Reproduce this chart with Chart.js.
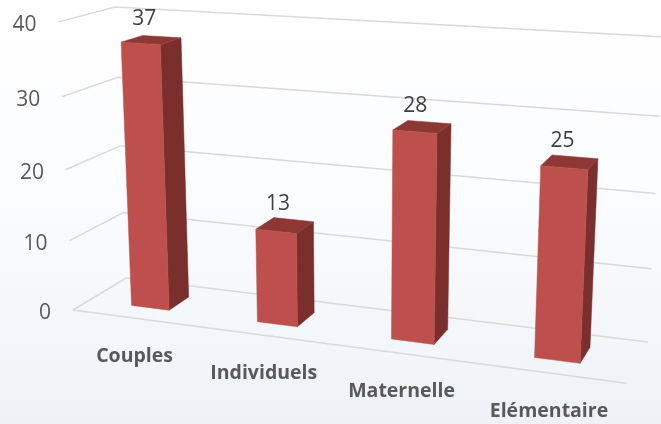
<!DOCTYPE html>
<html><head><meta charset="utf-8">
<style>html,body{margin:0;padding:0;background:#fff}canvas{display:block}</style>
<script src="https://cdn.jsdelivr.net/npm/chart.js@4"></script>
</head><body><canvas id="c" width="661" height="424"></canvas>
<script>
const categories = ["Couples", "Individuels", "Maternelle", "Elémentaire"];
const values = [37, 13, 28, 25];
const axisMin = 0, axisMax = 40, axisStep = 10;

// Camera of the 3D view: back-left floor corner and the three vanishing points
const origin = [126, 278];
const vanish = { u: [-3850, -209, -0.116], h: [355, 5920, -0.04583], d: [929, -207, -0.0619] };
const depthBack = 0.3, depthFront = 0.7;
const colors = { front: "#BD504D", top: "#8E3836", side: "#7A2F2D", grid: "#D9D9D9", tick: "#595959", value: "#404040", cat: "#595959" };
const numFont = '21px "Open Sans"', catFont = 'bold 19.5px "Open Sans"';

function P(u, h, d) {
  const w = 1 + vanish.u[2]*u + vanish.h[2]*h + vanish.d[2]*d;
  const x = origin[0] + vanish.u[2]*u*vanish.u[0] + vanish.h[2]*h*vanish.h[0] + vanish.d[2]*d*vanish.d[0];
  const y = origin[1] + vanish.u[2]*u*vanish.u[1] + vanish.h[2]*h*vanish.h[1] + vanish.d[2]*d*vanish.d[1];
  return [x/w, y/w];
}
function poly(ctx, pts, fill) {
  ctx.beginPath();
  pts.forEach((p,i)=> i ? ctx.lineTo(p[0],p[1]) : ctx.moveTo(p[0],p[1]));
  ctx.closePath();
  ctx.fillStyle = fill; ctx.strokeStyle = fill; ctx.lineWidth = 0.5;
  ctx.fill(); ctx.stroke();
}
const perspective = {
  id: "perspective",
  beforeDraw(chart) {
    const {ctx, width, height, scales:{x, y}} = chart;
    const g = ctx.createLinearGradient(0,0,0,height);
    g.addColorStop(0,"#FFFFFF"); g.addColorStop(0.45,"#FBFCFE"); g.addColorStop(1,"#EEF2F7");
    ctx.fillStyle = g; ctx.fillRect(0,0,width,height);
    const hOf = py => (y.bottom - py)/(y.bottom - y.top);
    ctx.strokeStyle = colors.grid; ctx.lineWidth = 1.5;
    ctx.font = numFont; ctx.textBaseline = "middle"; ctx.textAlign = "right";
    y.ticks.forEach(t => {
      const h = hOf(y.getPixelForValue(t.value));
      const a = P(0,h,1), b = P(0,h,0), c = P(1,h,0);
      ctx.beginPath(); ctx.moveTo(a[0],a[1]); ctx.lineTo(b[0],b[1]); ctx.lineTo(c[0],c[1]); ctx.stroke();
      ctx.fillStyle = colors.tick;
      ctx.fillText(String(t.value), a[0]-22, a[1]+3);
    });
    const f0 = P(0,0,1), f1 = P(1,0,1);
    ctx.beginPath(); ctx.moveTo(f0[0],f0[1]); ctx.lineTo(f1[0],f1[1]); ctx.stroke();
    ctx.font = catFont; ctx.textAlign = "center"; ctx.fillStyle = colors.cat;
    categories.forEach((c,i) => {
      const p = P((x.getPixelForValue(i)-x.left)/(x.right-x.left),0,1);
      ctx.fillText(c, p[0], p[1]+38);
    });
  },
  beforeDatasetsDraw(chart) {
    const {ctx, scales:{x, y}} = chart;
    const meta = chart.getDatasetMeta(0);
    meta.data.forEach((el,i) => {
      const W = x.right-x.left;
      const u0 = (el.x-el.width/2-x.left)/W, u1 = (el.x+el.width/2-x.left)/W;
      const h = (y.bottom-el.y)/(y.bottom-y.top);
      const f = depthFront, b = depthBack;
      poly(ctx,[P(u1,0,f),P(u1,0,b),P(u1,h,b),P(u1,h,f)],colors.side);
      poly(ctx,[P(u0,h,f),P(u1,h,f),P(u1,h,b),P(u0,h,b)],colors.top);
      poly(ctx,[P(u0,0,f),P(u1,0,f),P(u1,h,f),P(u0,h,f)],colors.front);
      const c = P((el.x-x.left)/W,h,0.5);
      ctx.font = numFont; ctx.textAlign="center"; ctx.textBaseline="middle"; ctx.fillStyle=colors.value;
      ctx.fillText(String(values[i]), c[0]-7, c[1]-21);
    });
    return false;
  }
};
new Chart(document.getElementById("c"), {
  type: "bar",
  data: { labels: categories, datasets: [{ data: values, backgroundColor: colors.front, barPercentage: 0.305, categoryPercentage: 1 }] },
  options: {
    responsive: false, animation: false, devicePixelRatio: 1,
    plugins: { legend: {display:false}, tooltip: {enabled:false}, title:{display:false} },
    scales: {
      x: { display: false },
      y: { display: false, min: axisMin, max: axisMax, ticks: { stepSize: axisStep } }
    }
  },
  plugins: [perspective]
});
</script></body></html>
